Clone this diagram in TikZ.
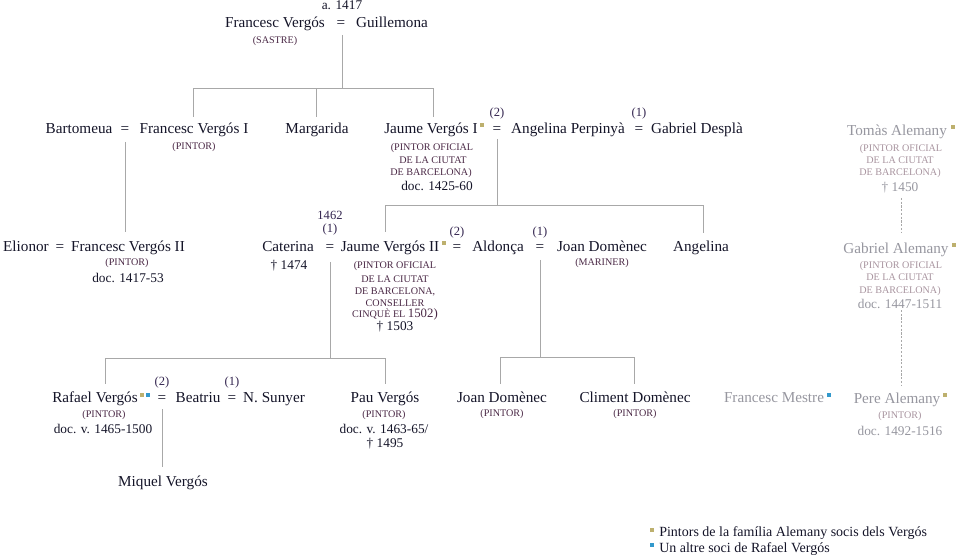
\documentclass[tikz,border=0pt]{standalone}
\usepackage{fontspec}
\setmainfont{Liberation Serif}
\usetikzlibrary{calc}
\definecolor{ink}{HTML}{141428}
\definecolor{scol}{HTML}{4A2845}
\definecolor{numc}{HTML}{33254F}
\definecolor{gname}{HTML}{96969F}
\definecolor{gscol}{HTML}{A8949F}
\definecolor{linec}{HTML}{A8A8A8}
\definecolor{tanc}{HTML}{BDB06E}
\definecolor{bluec}{HTML}{3399CC}
\newcommand\fName{\fontsize{11.4}{13}\selectfont}
\newcommand\fSc{\fontsize{7.6}{9}\selectfont}
\newcommand\fDate{\fontsize{10}{12}\selectfont}
\newcommand\fNum{\fontsize{9.4}{11}\selectfont}
\newcommand\fLeg{\fontsize{10.5}{12}\selectfont}
\newcommand\fBig{\fontsize{9.6}{11}\selectfont}
\tikzset{
  tName/.style={font=\fName, text=ink, inner sep=0pt, anchor=base},
  tSc/.style={font=\fSc, text=scol, inner sep=0pt, anchor=base},
  tDate/.style={font=\fDate, text=ink, inner sep=0pt, anchor=base},
  tNum/.style={font=\fNum, text=numc, inner sep=0pt, anchor=base},
  tGName/.style={tName, text=gname},
  tGSc/.style={tSc, text=gscol},
  tGDate/.style={tDate, text=gname},
  tLeg/.style={font=\fLeg, text=ink, inner sep=0pt, anchor=base west},
  tConn/.style={draw=linec, line width=0.7pt},
  tDash/.style={draw=linec, line width=0.5pt, dash pattern=on 1.6pt off 1.2pt},
  sqTan/.style={rectangle, fill=tanc, draw=none, inner sep=0pt, minimum size=3pt, anchor=north west},
  sqBlue/.style={sqTan, fill=bluec},
}
\begin{document}
\begin{tikzpicture}[x=0.75pt,y=-0.75pt]
\useasboundingbox (0,0) rectangle (962,559);
% ---------- row 0
\node[tDate] (yr0) at (342,10) {a. 1417};
\node[tName] (fv0) at (275,28) {Francesc Vergós};
\node[tName] (eq0) at (341,28) {=};
\node[tName] (gui) at (392,28) {Guillemona};
\node[tSc] (fv0o) at (275,44) {(SASTRE)};
% ---------- row 1
\node[tName] (bart) at (79,134) {Bartomeua};
\node[tName] (eq1) at (125,134) {=};
\node[tName] (fvI) at (194,134) {Francesc Vergós I};
\node[tSc] (fvIo) at (194,150) {(PINTOR)};
\node[tName] (marg) at (317,134) {Margarida};
\node[tName] (jI) at (431,134) {Jaume Vergós I};
\node[sqTan] (jIsq) at (480,123) {};
\node[tNum] (n2a) at (497,117) {(2)};
\node[tName] (eq2) at (497,134) {=};
\node[tName] (angP) at (568,134) {Angelina Perpinyà};
\node[tNum] (n1a) at (639,117) {(1)};
\node[tName] (eq3) at (639,134) {=};
\node[tName] (gabD) at (697,134) {Gabriel Desplà};
\node[tSc] (jIo1) at (432,151) {(PINTOR OFICIAL};
\node[tSc] (jIo2) at (433,164) {DE LA CIUTAT};
\node[tSc] (jIo3) at (431,176) {DE BARCELONA)};
\node[tDate] (jId) at (437,191) {doc. 1425-60};
% ---------- row 2
\node[tName] (elio) at (26,252) {Elionor};
\node[tName] (eq4) at (60,252) {=};
\node[tName] (fvII) at (128,252) {Francesc Vergós II};
\node[tSc] (fvIIo) at (127,266) {(PINTOR)};
\node[tDate] (fvIId) at (128,282) {doc. 1417-53};
\node[tNum] (yr1) at (330,220) {1462};
\node[tNum] (n1b) at (330,233) {(1)};
\node[tName] (cat) at (288,252) {Caterina};
\node[tDate] (catd) at (289,270) {† 1474};
\node[tName] (eq5) at (330,252) {=};
\node[tName] (jII) at (390,252) {Jaume Vergós II};
\node[sqTan] (jIIsq) at (442,241) {};
\node[tNum] (n2b) at (457,236) {(2)};
\node[tName] (eq6) at (457,252) {=};
\node[tName] (ald) at (498,252) {Aldonça};
\node[tNum] (n1c) at (540,236) {(1)};
\node[tName] (eq7) at (540,252) {=};
\node[tName] (joanM) at (602,252) {Joan Domènec};
\node[tSc] (joanMo) at (602,266) {(MARINER)};
\node[tName] (angII) at (701,252) {Angelina};
\node[tSc] (jIIo1) at (395,269) {(PINTOR OFICIAL};
\node[tSc] (jIIo2) at (395,282) {DE LA CIUTAT};
\node[tSc] (jIIo3) at (395,294) {DE BARCELONA,};
\node[tSc] (jIIo4) at (395,306) {CONSELLER};
\node[tSc] (jIIo5) at (395,317) {CINQUÈ EL {\fBig 1502)}};
\node[tDate] (jIId) at (395,330) {† 1503};
% ---------- row 3
\node[tName] (raf) at (95,402) {Rafael Vergós};
\node[sqTan] (rafsq1) at (140,393) {};
\node[sqBlue] (rafsq2) at (146,393) {};
\node[tNum] (n2c) at (162,385) {(2)};
\node[tName] (eq8) at (162,402) {=};
\node[tName] (beat) at (198,402) {Beatriu};
\node[tNum] (n1d) at (232,385) {(1)};
\node[tName] (eq9) at (232,402) {=};
\node[tName] (suny) at (274,402) {N. Sunyer};
\node[tSc] (rafo) at (104,417) {(PINTOR)};
\node[tDate] (rafd) at (103,433) {doc. v. 1465-1500};
\node[tName] (miq) at (163,486) {Miquel Vergós};
\node[tName] (pau) at (385,402) {Pau Vergós};
\node[tSc] (pauo) at (384,417) {(PINTOR)};
\node[tDate] (paud1) at (384,433) {doc. v. 1463-65/};
\node[tDate] (paud2) at (385,447) {† 1495};
\node[tName] (joanP) at (502,402) {Joan Domènec};
\node[tSc] (joanPo) at (502,416) {(PINTOR)};
\node[tName] (clim) at (635,402) {Climent Domènec};
\node[tSc] (climo) at (635,416) {(PINTOR)};
\node[tGName] (mest) at (774,402) {Francesc Mestre};
\node[sqBlue] (mestsq) at (827,393) {};
% ---------- Alemany column
\node[tGName] (tom) at (897,136) {Tomàs Alemany};
\node[sqTan] (tomsq) at (951,125) {};
\node[tGSc] (tomo1) at (901,152) {(PINTOR OFICIAL};
\node[tGSc] (tomo2) at (900,164) {DE LA CIUTAT};
\node[tGSc] (tomo3) at (900,176) {DE BARCELONA)};
\node[tGDate] (tomd) at (900,192) {† 1450};
\node[tGName] (gabA) at (896,253) {Gabriel Alemany};
\node[sqTan] (gabAsq) at (952,243) {};
\node[tGSc] (gabAo1) at (901,269) {(PINTOR OFICIAL};
\node[tGSc] (gabAo2) at (900,281) {DE LA CIUTAT};
\node[tGSc] (gabAo3) at (900,293) {DE BARCELONA)};
\node[tGDate] (gabAd) at (900,308) {doc. 1447-1511};
\node[tGName] (pere) at (897,403) {Pere Alemany};
\node[sqTan] (peresq) at (943,393) {};
\node[tGSc] (pereo) at (900,418) {(PINTOR)};
\node[tGDate] (pered) at (900,435) {doc. 1492-1516};
% ---------- legend
\node[sqTan] (lg1s) at (650,528) {};
\node[tLeg] (lg1) at (659,536) {Pintors de la família Alemany socis dels Vergós};
\node[sqBlue] (lg2s) at (650,543) {};
\node[tLeg] (lg2) at (659,552) {Un altre soci de Rafael Vergós};
% ---------- connectors
\draw[tConn] ($(eq0.base)+(1,7)$) -- ($(eq0.base)+(1,60)$) coordinate (j0);
\draw[tConn] (j0) -| ($(fvI.base)+(-1,-17)$);
\draw[tConn] (j0) -| ($(marg.base)+(-1,-17)$);
\draw[tConn] (j0) -| ($(jI.base)+(2,-17)$);
\draw[tConn] ($(eq1.base)+(0,8)$) -- ($(eq1.base |- fvII.base)+(0,-20)$);
\draw[tConn] ($(eq2.base)+(0,5)$) -- ($(eq2.base)+(0,71)$) coordinate (j1);
\draw[tConn] (j1) -| ($(jII.base)+(-5,-20)$);
\draw[tConn] (j1) -| ($(angII.base)+(2,-19)$);
\draw[tConn] ($(eq5.base)+(0,10)$) -- ($(eq5.base)+(0,106)$) coordinate (j2);
\draw[tConn] (j2) -| ($(raf.base)+(10,-18)$);
\draw[tConn] (j2) -| ($(pau.base)+(0,-18)$);
\draw[tConn] ($(eq7.base)+(0,8)$) -- ($(eq7.base)+(0,105)$) coordinate (j3);
\draw[tConn] (j3) -| ($(joanP.base)+(-2,-18)$);
\draw[tConn] (j3) -| ($(clim.base)+(-1,-18)$);
\draw[tConn] ($(eq8.base)+(0,7)$) -- ($(eq8.base |- miq.base)+(0,-19)$);
\draw[tDash] ($(tomd.base)+(1,6)$) -- ($(tomd.base |- gabA.base)+(1,-20)$);
\draw[tDash] ($(gabAd.base)+(1,2)$) -- ($(gabAd.base |- pere.base)+(1,-18)$);
\end{tikzpicture}
\end{document}
